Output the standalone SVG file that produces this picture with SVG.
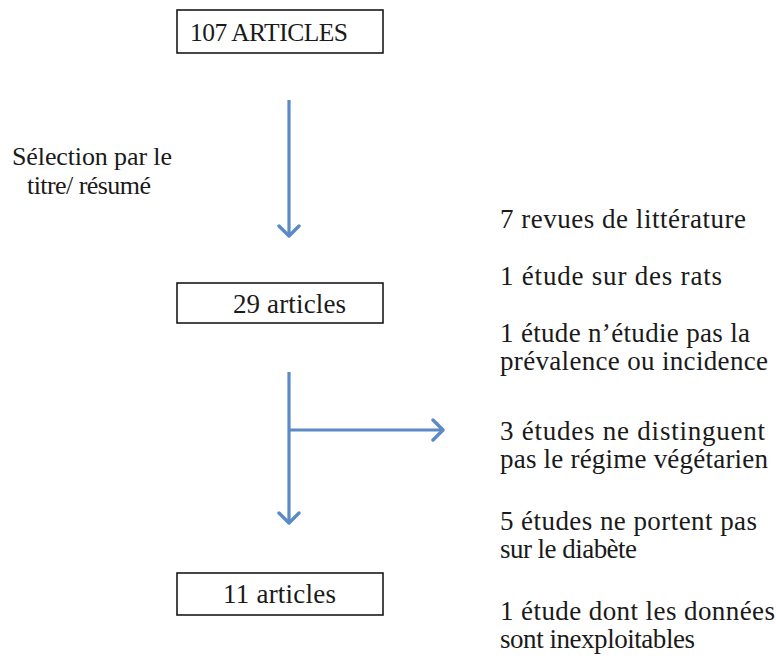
<svg xmlns="http://www.w3.org/2000/svg" width="776" height="661" viewBox="0 0 776 661">
<style>
  text { font-family: "Liberation Serif", "DejaVu Serif", serif; font-size: 27px; fill: #1a1a1a; }
  .lbl { font-size: 26px; }
  .sm { font-size: 25.5px; }
  .box rect { fill: #ffffff; stroke: #1a1a1a; stroke-width: 1.6; }
  .conn { fill: none; stroke: #5B8AC6; stroke-width: 3.2; }
</style>
<defs>
  <marker id="arr" markerUnits="userSpaceOnUse" markerWidth="24" markerHeight="24" refX="12" refY="12" orient="auto" viewBox="0 0 24 24">
    <path d="M2,2 L12,12 L2,22" fill="none" stroke="#5B8AC6" stroke-width="3.4" stroke-linecap="round" stroke-linejoin="round"/>
  </marker>
</defs>
<rect width="776" height="661" fill="#ffffff"/>

<g id="connectors">
  <line class="conn" x1="289" y1="100" x2="289" y2="236" marker-end="url(#arr)"/>
  <line class="conn" x1="289" y1="372" x2="289" y2="523" marker-end="url(#arr)"/>
  <line class="conn" x1="289" y1="430" x2="443" y2="430" marker-end="url(#arr)"/>
</g>

<g id="box-107" class="box">
  <rect x="177" y="10" width="206" height="43"/>
  <text class="sm" x="190" y="41" textLength="158">107 ARTICLES</text>
</g>
<g id="box-29" class="box">
  <rect x="177" y="283" width="206" height="40"/>
  <text x="233" y="313" textLength="113">29 articles</text>
</g>
<g id="box-11" class="box">
  <rect x="177" y="573" width="206" height="42"/>
  <text x="223" y="603" textLength="113">11 articles</text>
</g>

<g id="label-selection">
  <text class="lbl" x="12" y="165" textLength="160">Sélection par le</text>
  <text class="lbl" x="27" y="194" textLength="124">titre/ résumé</text>
</g>

<g id="exclusions">
  <text x="500" y="228" textLength="246">7 revues de littérature</text>
  <text x="500" y="285" textLength="222">1 étude sur des rats</text>
  <text x="500" y="342" textLength="250">1 étude n’étudie pas la</text>
  <text x="500" y="370" textLength="268">prévalence ou incidence</text>
  <text x="500" y="440" textLength="265">3 études ne distinguent</text>
  <text x="500" y="468" textLength="268">pas le régime végétarien</text>
  <text x="500" y="530" textLength="257">5 études ne portent pas</text>
  <text x="500" y="558" textLength="137">sur le diabète</text>
  <text x="500" y="620" textLength="275">1 étude dont les données</text>
  <text x="500" y="648" textLength="195">sont inexploitables</text>
</g>
</svg>
